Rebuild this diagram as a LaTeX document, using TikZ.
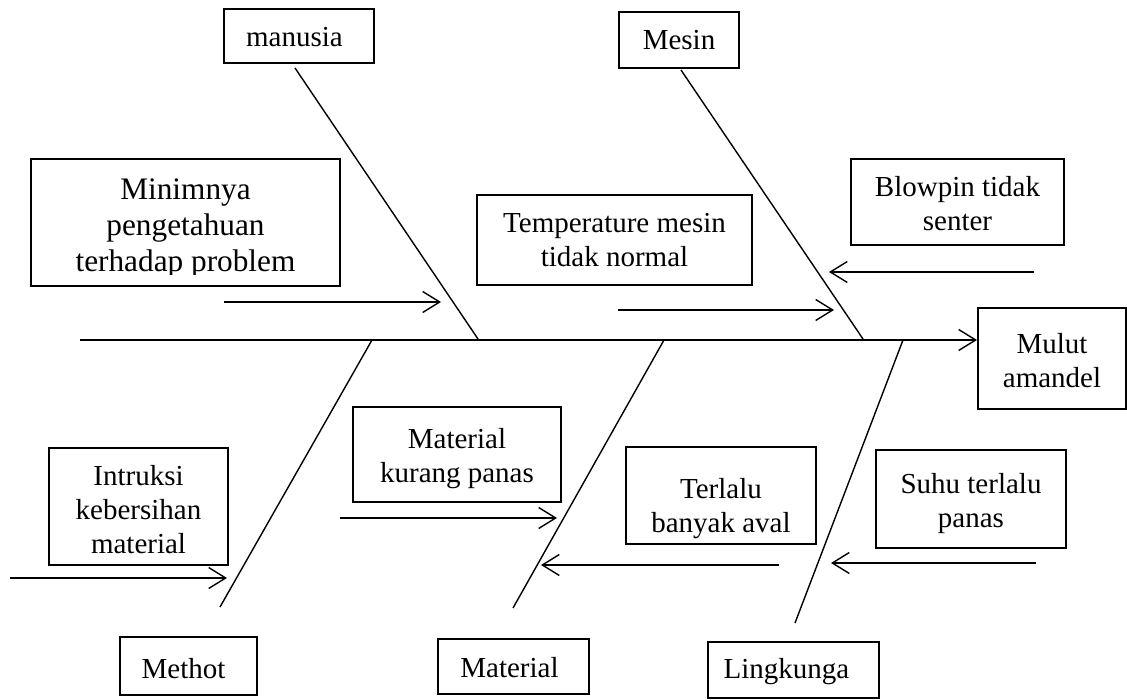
\documentclass[tikz,border=0pt]{standalone}
\usepackage{fontspec}
\setmainfont{Liberation Serif}
\usetikzlibrary{arrows.meta}
\newcommand\boxtext[4]{\parbox[c][#2][t]{#1}{\fontsize{29}{34}\selectfont\centering\vspace*{#3}\strut #4}}
\newcommand\boxtextL[4]{\parbox[c][#2][t]{#1}{\fontsize{31.3}{36}\selectfont\centering\vspace*{#3}\strut #4}}
\tikzset{
  cbox/.style={draw, line width=2pt, inner sep=0pt, outer sep=0pt},
  bone/.style={line width=1.4pt},
  cause/.style={line width=1.4pt, -{Straight Barb[length=17pt,width=21pt]}}
}
\begin{document}
\begin{tikzpicture}[x=1pt,y=-1pt]
\fill[white] (0,0) rectangle (1127,700);
\useasboundingbox (0,0) rectangle (1127,700);

% category and effect boxes
\node[cbox] (man) at (299,36) {\boxtext{150pt}{54pt}{14.2pt}{manusia\kern9pt}};
\node[cbox] (mes) at (679,40) {\boxtext{120pt}{56pt}{14.2pt}{Mesin}};
\node[cbox] (met) at (188.5,666) {\boxtext{137pt}{58pt}{17.2pt}{Methot\kern10pt}};
\node[cbox] (mat) at (513.5,666.5) {\boxtext{151pt}{55pt}{14.2pt}{Material\kern8pt}};
\node[cbox] (lin) at (793.5,670) {\boxtext{171pt}{56pt}{12.2pt}{Lingkunga\kern14pt}};
\node[cbox] (mul) at (1052,358.5) {\boxtext{148pt}{101pt}{22.2pt}{Mulut\\\strut amandel}};

% cause boxes
\node[cbox] (min) at (185.5,222.5) {\boxtextL{309pt}{127pt}{15.8pt}{Minimnya\\\strut pengetahuan\\\strut terhadap problem}};
\fill[white] (32.2,275) rectangle (338.8,284.9);
\node[cbox] (tem) at (614.5,240) {\boxtext{275pt}{90pt}{14.2pt}{Temperature mesin\\\strut tidak normal}};
\node[cbox] (blo) at (957.5,202) {\boxtext{213pt}{86pt}{14.2pt}{Blowpin tidak\\\strut senter}};
\node[cbox] (int) at (138.5,506.5) {\boxtext{179pt}{117pt}{13.2pt}{Intruksi\\\strut kebersihan\\\strut material}};
\node[cbox] (mku) at (457,454.5) {\boxtext{208pt}{95pt}{17.2pt}{Material\\\strut kurang panas}};
\node[cbox] (ter) at (721,495.5) {\boxtext{190pt}{97pt}{27.2pt}{Terlalu\\\strut banyak aval}};
\node[cbox] (suh) at (971,499) {\boxtext{190pt}{98pt}{19.2pt}{Suhu terlalu\\\strut panas}};

% spine
\coordinate (spS) at (80,340);
\coordinate (spE) at (977,340);
\draw[cause] (spS) -- (spE);

% bones
\coordinate (manA) at (295,68);   \coordinate (manB) at (478,339);
\coordinate (mesA) at (681,70);   \coordinate (mesB) at (863,339);
\coordinate (metA) at (372,340);  \coordinate (metB) at (220,607);
\coordinate (matA) at (664,340);  \coordinate (matB) at (513,608);
\coordinate (linA) at (903,340);  \coordinate (linB) at (795,623);
\draw[bone] (manA) -- (manB);
\draw[bone] (mesA) -- (mesB);
\draw[bone] (metA) -- (metB);
\draw[bone] (matA) -- (matB);
\draw[bone] (linA) -- (linB);

% cause arrows
\coordinate (a1s) at (224,302);  \coordinate (a1e) at (441,302);
\coordinate (a2s) at (618,310);  \coordinate (a2e) at (834,310);
\coordinate (a3s) at (1034,272); \coordinate (a3e) at (829,272);
\coordinate (a4s) at (10,578);   \coordinate (a4e) at (227,578);
\coordinate (a5s) at (340,518);  \coordinate (a5e) at (557,518);
\coordinate (a6s) at (779,565);  \coordinate (a6e) at (541,565);
\coordinate (a7s) at (1036,563); \coordinate (a7e) at (831,563);
\draw[cause] (a1s) -- (a1e);
\draw[cause] (a2s) -- (a2e);
\draw[cause] (a3s) -- (a3e);
\draw[cause] (a4s) -- (a4e);
\draw[cause] (a5s) -- (a5e);
\draw[cause] (a6s) -- (a6e);
\draw[cause] (a7s) -- (a7e);
\end{tikzpicture}
\end{document}
